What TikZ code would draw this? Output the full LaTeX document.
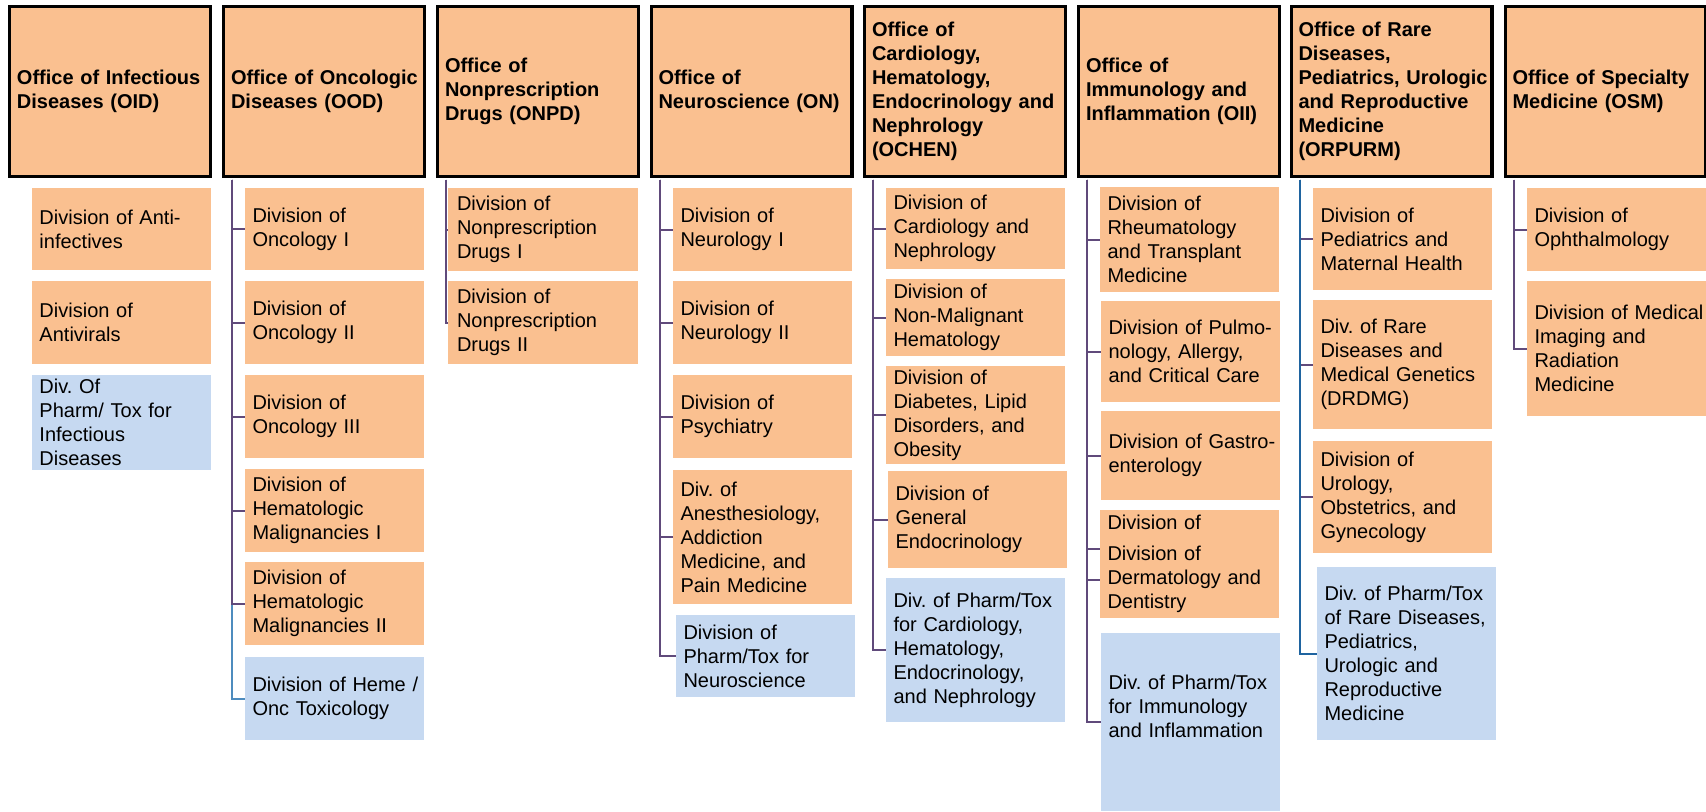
\documentclass[tikz,border=0pt]{standalone}
\usepackage{fontspec}
\setmainfont{Liberation Sans}
\usepackage{tikz}

\definecolor{officeFill}{RGB}{250,192,144}
\definecolor{pharmFill}{RGB}{198,217,241}
\definecolor{linkPurple}{RGB}{96,74,123}
\definecolor{linkSteel}{RGB}{78,140,190}
\definecolor{linkBlue}{RGB}{31,100,160}

\frenchspacing
\hyphenpenalty=10000
\exhyphenpenalty=10000

\begin{document}
\begin{tikzpicture}[
    x=0.5pt, y=-0.5pt,
    font=\fontsize{10}{12}\selectfont,
    % Styles
    officeBox/.style={draw=black, line width=1.65pt, fill=officeFill, minimum width=100.35pt, minimum height=84.85pt, text width=93pt, inner xsep=3.675pt, align=left, font=\fontsize{10}{12}\selectfont\bfseries},
    divBox/.style={fill=officeFill, minimum width=89.5pt, text width=82pt, inner xsep=3.75pt, inner ysep=0pt, align=left},
    pharmBox/.style={divBox, fill=pharmFill},
    link/.style={draw=linkPurple, line width=1pt}
]
\useasboundingbox (0,0) rectangle (1706,811);

% ================= OFFICES (top row) =================
\node[officeBox] (oid) at (110, 91.5) {Office~of~Infectious\\Diseases (OID)};
\node[officeBox] (ood) at (324, 91.5) {Office~of~Oncologic\\Diseases (OOD)};
\node[officeBox] (onpd) at (538, 91.5) {Office of\\Nonprescription\\Drugs (ONPD)};
\node[officeBox] (on) at (751.5, 91.5) {Office of\\Neuroscience~(ON)};
\node[officeBox] (ochen) at (965, 91.5) {Office of\\Cardiology,\\Hematology,\\Endocrinology~and\\Nephrology\\(OCHEN)};
\node[officeBox] (oii) at (1179, 91.5) {Office of\\Immunology and\\Inflammation (OII)};
\node[officeBox] (orpurm) at (1391.5, 91.5) {Office of Rare\\Diseases,\\Pediatrics,~Urologic\\and Reproductive\\Medicine\\(ORPURM)};
\node[officeBox] (osm) at (1605.5, 91.5) {Office~of~Specialty\\Medicine (OSM)};

% ================= OID =================
\node[divBox, minimum height=41pt] (oidA) at (121.5, 229) {Division of Anti-\\infectives};
\node[divBox, minimum height=41.5pt] (oidB) at (121.5, 322.5) {Division of\\Antivirals};
\node[pharmBox, minimum height=47.5pt] (oidC) at (121.5, 422.5) {Div. Of\\Pharm/ Tox for\\Infectious\\Diseases};

% ================= OOD =================
\node[divBox, minimum height=41pt] (oodA) at (334.5, 229) {Division of\\Oncology I};
\node[divBox, minimum height=41.5pt] (oodB) at (334.5, 322.5) {Division of\\Oncology II};
\node[divBox, minimum height=41.5pt] (oodC) at (334.5, 416.5) {Division of\\Oncology III};
\node[divBox, minimum height=41.5pt] (oodD) at (334.5, 510.5) {Division of\\Hematologic\\Malignancies I};
\node[divBox, minimum height=41.5pt] (oodE) at (334.5, 603.5) {Division of\\Hematologic\\Malignancies II};
\node[pharmBox, minimum height=41.5pt] (oodF) at (334.5, 698.5) {Division~of~Heme~/\\Onc Toxicology};

% ================= ONPD =================
\node[divBox, minimum width=95pt, text width=86pt, minimum height=41.5pt] (onpdA) at (543, 229.5) {Division of\\Nonprescription\\Drugs I};
\node[divBox, minimum width=95pt, text width=86pt, minimum height=41.5pt] (onpdB) at (543, 322.5) {Division of\\Nonprescription\\Drugs II};

% ================= ON =================
\node[divBox, minimum height=41.5pt] (onA) at (762.5, 229.5) {Division of\\Neurology I};
\node[divBox, minimum height=41.5pt] (onB) at (762.5, 322.5) {Division of\\Neurology II};
\node[divBox, minimum height=41.5pt] (onC) at (762.5, 416.5) {Division of\\Psychiatry};
\node[divBox, minimum height=67pt] (onD) at (762.5, 537) {Div. of\\Anesthesiology,\\Addiction\\Medicine, and\\Pain Medicine};
\node[pharmBox, minimum height=41pt] (onE) at (765.5, 656) {Division of\\Pharm/Tox for\\Neuroscience};

% ================= OCHEN =================
\node[divBox, minimum height=40.5pt] (ochenA) at (975.5, 228.5) {Division of\\Cardiology and\\Nephrology};
\node[divBox, minimum height=38.5pt] (ochenB) at (975.5, 317.5) {Division of\\Non-Malignant\\Hematology};
\node[divBox, minimum height=49pt] (ochenC) at (975.5, 415) {Division of\\Diabetes, Lipid\\Disorders, and\\Obesity};
\node[divBox, minimum height=48.5pt] (ochenD) at (977.5, 519.5) {Division of\\General\\Endocrinology};
\node[pharmBox, minimum height=72pt] (ochenE) at (975.5, 650) {Div.~of~Pharm/Tox\\for Cardiology,\\Hematology,\\Endocrinology,\\and Nephrology};

% ================= OII =================
\node[divBox, minimum height=52.5pt] (oiiA) at (1189.5, 239.5) {Division of\\Rheumatology\\and Transplant\\Medicine};
\node[divBox, minimum height=50.5pt] (oiiB) at (1190.5, 351.5) {Division~of~Pulmo-\\nology, Allergy,\\and~Critical~Care};
\node[divBox, minimum height=44.5pt] (oiiC) at (1190.5, 455.5) {Division~of~Gastro-\\enterology};
\node[divBox, minimum height=54pt] (oiiD) at (1189.5, 564) {Division of\\[3.5pt]Division of\\Dermatology and\\Dentistry};
\node[pharmBox, minimum height=89pt] (oiiE) at (1190.5, 722) {Div.~of~Pharm/Tox\\for Immunology\\and~Inflammation\\[4pt]\mbox{}};

% ================= ORPURM =================
\node[divBox, minimum height=51pt] (orpurmA) at (1402.5, 239) {Division of\\Pediatrics and\\Maternal Health};
\node[divBox, minimum height=64.5pt] (orpurmB) at (1402.5, 364.5) {Div. of Rare\\Diseases and\\Medical~Genetics\\(DRDMG)};
\node[divBox, minimum height=56pt] (orpurmC) at (1402.5, 497) {Division of\\Urology,\\Obstetrics, and\\Gynecology};
\node[pharmBox, minimum height=86.5pt] (orpurmD) at (1406.5, 653.5) {Div.~of~Pharm/Tox\\of~Rare~Diseases,\\Pediatrics,\\Urologic and\\Reproductive\\Medicine};

% ================= OSM =================
\node[divBox, minimum height=41.5pt] (osmA) at (1616.5, 229.5) {Division of\\Ophthalmology};
\node[divBox, minimum height=67.5pt] (osmB) at (1616.5, 348.5) {Division~of~Medical\\Imaging and\\Radiation\\Medicine};

% ================= CONNECTORS =================
% OOD (pharm link first, the others lie over it)
\draw[link, draw=linkSteel] ([xshift=5.2pt,yshift=-0.8pt]ood.south west) |- (oodF.west);
\foreach \c in {A,B,C,D,E}
    \draw[link] ([xshift=5.2pt,yshift=-0.8pt]ood.south west) |- (ood\c.west);

% ONPD
\foreach \c in {A,B}
    \draw[link] ([xshift=5.2pt,yshift=-0.8pt]onpd.south west) |- (onpd\c.west);

% ON
\foreach \c in {A,B,C,D,E}
    \draw[link] ([xshift=5.2pt,yshift=-0.8pt]on.south west) |- (on\c.west);

% OCHEN
\foreach \c in {A,B,C,D,E}
    \draw[link] ([xshift=5.2pt,yshift=-0.8pt]ochen.south west) |- (ochen\c.west);

% OII (two links into the dermatology box)
\foreach \c in {A,B,C,E}
    \draw[link] ([xshift=5.2pt,yshift=-0.8pt]oii.south west) |- (oii\c.west);
\draw[link] ([xshift=5.2pt,yshift=-0.8pt]oii.south west) |- ([yshift=7.5pt]oiiD.west);
\draw[link] ([xshift=5.2pt,yshift=-0.8pt]oii.south west) |- ([yshift=-8pt]oiiD.west);

% ORPURM (pharm link last, in blue)
\foreach \c in {A,B,C}
    \draw[link] ([xshift=5.2pt,yshift=-0.8pt]orpurm.south west) |- (orpurm\c.west);
\draw[link, draw=linkBlue] ([xshift=5.2pt,yshift=-0.8pt]orpurm.south west) |- (orpurmD.west);

% OSM
\foreach \c in {A,B}
    \draw[link] ([xshift=5.2pt,yshift=-0.8pt]osm.south west) |- (osm\c.west);

\end{tikzpicture}
\end{document}
